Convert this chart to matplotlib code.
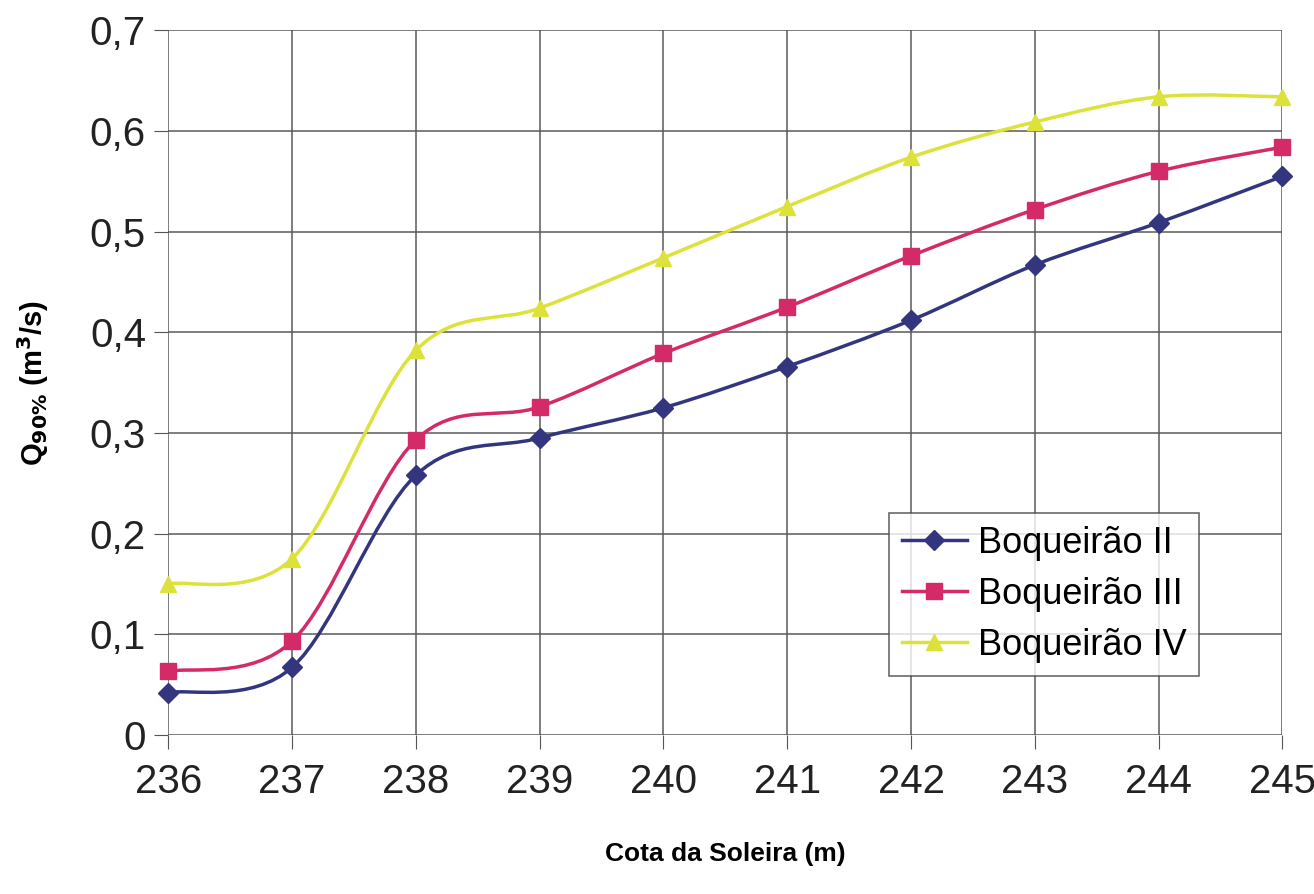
import matplotlib
matplotlib.use('Agg')
import matplotlib.pyplot as plt
import numpy as np
from matplotlib.path import Path
from matplotlib.patches import PathPatch
from matplotlib.lines import Line2D
from matplotlib.ticker import FuncFormatter

plt.rcParams['font.family'] = ['Liberation Sans', 'DejaVu Sans']

cota = [236, 237, 238, 239, 240, 241, 242, 243, 244, 245]
boq2 = [0.042, 0.067, 0.258, 0.295, 0.325, 0.366, 0.412, 0.467, 0.509, 0.555]
boq3 = [0.063, 0.093, 0.293, 0.326, 0.379, 0.425, 0.476, 0.522, 0.560, 0.584]
boq4 = [0.150, 0.175, 0.382, 0.424, 0.474, 0.525, 0.574, 0.609, 0.634, 0.634]
nomes = ['Boqueirão II', 'Boqueirão III', 'Boqueirão IV']


def smooth_path(x, y):
    # excel-style smoothed line: cubic bezier through each point
    p = np.column_stack([x, y]).astype(float)
    ext = np.vstack([p[0], p, p[-1]])
    verts = [p[0]]
    codes = [Path.MOVETO]
    for i in range(len(p) - 1):
        a, b, c, d = ext[i], ext[i + 1], ext[i + 2], ext[i + 3]
        verts += [b + (c - a) / 6, c - (d - b) / 6, c]
        codes += [Path.CURVE4] * 3
    return Path(verts, codes)


fig = plt.figure(figsize=(13.14, 8.94), dpi=100)
ax = fig.add_axes([0.128, 0.178, 0.848, 0.788])

cores = ['#33367e', '#d42a68', '#dce23a']
marcas = ['D', 's', '^']
tam = [10, 11, 12]
handles = []
for serie, cor, m, ms, nome in zip([boq2, boq3, boq4], cores, marcas, tam, nomes):
    ax.add_patch(PathPatch(smooth_path(cota, serie), fill=False, edgecolor=cor, lw=2.5, zorder=3))
    ax.plot(cota, serie, ls='none', marker=m, ms=ms, color=cor, zorder=4, clip_on=False)
    handles.append(Line2D([], [], color=cor, lw=2.5, marker=m, ms=ms))

ax.set_xlim(236, 245)
ax.set_ylim(0, 0.7)
ax.set_xticks(cota)
ax.set_yticks(np.arange(0, 0.71, 0.1))
ax.yaxis.set_major_formatter(FuncFormatter(lambda v, pos: ('%g' % round(v, 1)).replace('.', ',')))
ax.grid(True, color='#5a5a5a', lw=1.1)
ax.set_axisbelow(True)
for s in ax.spines.values():
    s.set_visible(False)
ax.tick_params(axis='both', labelsize=29, length=10, color='#555555', colors='#222222')
ax.tick_params(axis='x', pad=10)
ax.tick_params(axis='y', pad=6)

ax.set_xlabel('Cota da Soleira (m)', fontsize=19, fontweight='bold', labelpad=30)
ax.set_ylabel(r'Q$_{\mathbf{90\%}}$ (m$^{\mathbf{3}}$/s)', fontsize=21, fontweight='bold', labelpad=28)

leg = ax.legend(handles, nomes, loc='lower left', bbox_to_anchor=(0.647, 0.084),
                fontsize=26, frameon=True, fancybox=False, edgecolor='#444444',
                handlelength=1.8, handletextpad=0.3, borderpad=0.35, labelspacing=0.45,
                borderaxespad=0)
leg.get_frame().set_linewidth(1.2)

plt.savefig('out.png', dpi=100)
